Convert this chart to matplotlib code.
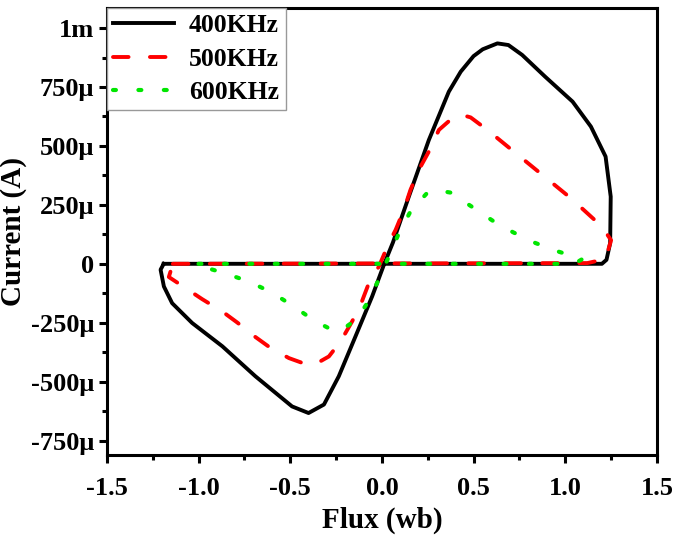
import numpy as np
import matplotlib.pyplot as plt
from matplotlib.ticker import MultipleLocator

plt.rcParams['font.family'] = ['Liberation Serif', 'DejaVu Serif']
plt.rcParams['font.weight'] = 'bold'

# flux (wb) and current (uA)
flux_400 = [-1.19, 1.20, 1.225, 1.245, 1.248, 1.22, 1.14, 1.04, 0.89, 0.765, 0.69, 0.63,
            0.55, 0.50, 0.43, 0.365, 0.256, 0.147, 0.06, 0.011, -0.053, -0.144, -0.235, -0.316,
            -0.40, -0.49, -0.69, -0.87, -1.035, -1.144, -1.189, -1.207, -1.19]
cur_400 = [0, 0, 17, 88, 285, 455, 582, 688, 794, 886, 928, 935,
           910, 881, 815, 730, 525, 285, 90, -4, -138, -308, -477, -597,
           -633, -605, -477, -350, -251, -167, -96, -25, 0]

flux_500 = [-1.14, 1.12, 1.22, 1.25, 1.20, 1.10, 1.02, 0.575, 0.484, 0.43, 0.393, 0.311,
            0.256, 0.211, 0.156, 0.12, 0.075, 0.038, -0.016, -0.071, -0.116, -0.162,
            -0.225, -0.289, -0.35, -0.407, -0.507, -0.607, -0.689, -0.789, -0.871,
            -0.980, -1.071, -1.162, -1.14]
cur_500 = [0, 3, 20, 100, 158, 229, 285, 568, 621, 633, 624, 568,
           476, 412, 314, 229, 144, 88, -11, -82, -174, -244,
           -329, -393, -420, -428, -400, -357, -311, -249, -202,
           -150, -103, -56, 0]

flux_600 = [-1.0, 1.05, 1.093, 0.962, 0.838, 0.715, 0.602, 0.489, 0.375, 0.30, 0.253,
            0.156, 0.093, 0.038, -0.016, -0.075, -0.135, -0.20, -0.256, -0.371, -0.486,
            -0.602, -0.726, -0.857, -0.984, -1.0]
cur_600 = [0, 0, 20, 52, 88, 134, 184, 243, 302, 312, 306,
           222, 130, 31, -65, -160, -234, -270, -287, -240, -178,
           -121, -75, -40, -11, 0]

y_ticks = [-750, -500, -250, 0, 250, 500, 750, 1000]
y_tick_labels = ['-750\u03bc', '-500\u03bc', '-250\u03bc', '0', '250\u03bc', '500\u03bc', '750\u03bc', '1m']
x_ticks = [-1.5, -1.0, -0.5, 0.0, 0.5, 1.0, 1.5]

fig = plt.figure(figsize=(6.85, 5.35), dpi=100)
ax = fig.add_axes([0.156, 0.150, 0.803, 0.835])

ax.plot(flux_400, cur_400, color='black', lw=2.8, label='400KHz')
ax.plot(flux_500, cur_500, color='red', lw=2.8, ls=(0, (4.0, 5.5)), dash_capstyle='round',
        label='500KHz')
ax.plot(flux_600, cur_600, color='#00e600', lw=3.0, ls=(0, (0.7, 5.4)), dash_capstyle='round',
        label='600KHz')

ax.set_xlim(-1.5, 1.5)
ax.set_ylim(-810, 1085)
ax.set_xticks(x_ticks)
ax.set_xticklabels([f'{v:.1f}' for v in x_ticks])
ax.set_yticks(y_ticks)
ax.set_yticklabels(y_tick_labels)
ax.xaxis.set_minor_locator(MultipleLocator(0.25))
ax.yaxis.set_minor_locator(MultipleLocator(125))
ax.tick_params(which='major', direction='out', length=6, width=2.2, labelsize=19, pad=3)
ax.tick_params(axis='x', which='major', pad=10)
ax.tick_params(which='minor', direction='out', length=3.5, width=2.2)
for s in ax.spines.values():
    s.set_linewidth(2.2)

ax.set_xlabel('Flux (wb)', fontsize=21, fontweight='bold', labelpad=5)
ax.set_ylabel('Current (A)', fontsize=21, fontweight='bold', labelpad=3)

leg = ax.legend(loc='upper left', fontsize=18.5, fancybox=False, borderaxespad=0,
                handlelength=2.35, handletextpad=0.6, edgecolor='#999999', framealpha=1,
                borderpad=0.25, labelspacing=0.4)
leg.get_frame().set_linewidth(1.0)

fig.savefig('out.png', dpi=100)
